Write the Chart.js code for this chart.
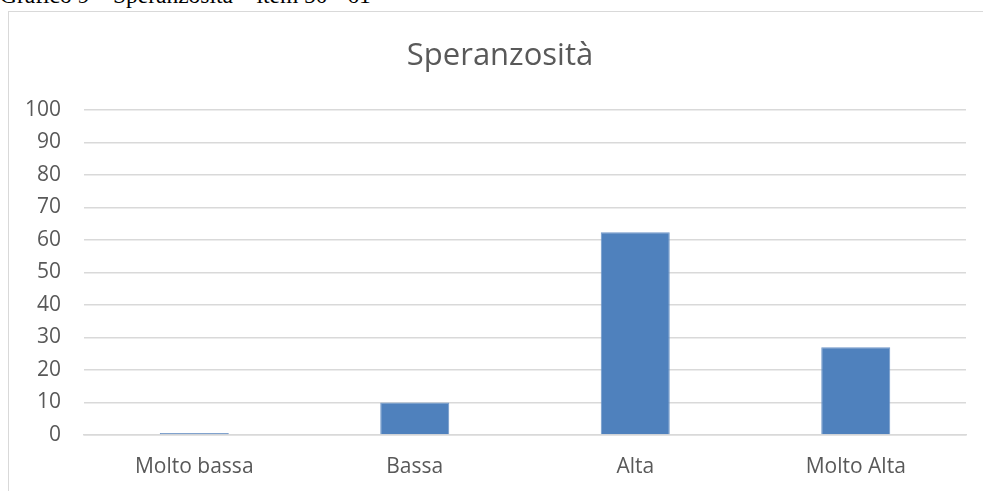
<!DOCTYPE html>
<html>
<head>
<meta charset="utf-8">
<script src="https://cdn.jsdelivr.net/npm/chart.js@4"></script>
<style>
  html, body { margin: 0; padding: 0; background: #fff; overflow: hidden; }
  body { width: 983px; height: 491px; position: relative; }
  #caption {
    position: absolute; left: 0; top: -18px;
    font-family: "Liberation Serif", "Times New Roman", serif;
    font-size: 23.5px; line-height: 27px; color: #000; white-space: nowrap;
  }
  #frame {
    position: absolute; left: 8px; top: 11px; width: 1000px; height: 500px;
    border: 1px solid #d9d9d9; box-sizing: border-box;
  }
  #wrap { position: absolute; left: 0; top: 0; width: 983px; height: 491px; }
</style>
</head>
<body>
<div id="caption">Grafico 9 – Speranzosità – item 50 - 61</div>
<div id="frame"></div>
<div id="wrap"><canvas id="chart"></canvas></div>
<script>
const chartTitle = 'Speranzosità';
const categories = ['Molto bassa', 'Bassa', 'Alta', 'Molto Alta'];
const values = [0.6, 10, 62.4, 27];
const yTicks = [0, 10, 20, 30, 40, 50, 60, 70, 80, 90, 100];

const FONT = '"Open Sans", Lato, sans-serif';
const TEXT = '#595959';

// title drawn centered over the frame, like the original
const titlePlugin = {
  id: 'frameTitle',
  afterDraw(chart) {
    const ctx = chart.ctx;
    ctx.save();
    ctx.font = '31px ' + FONT;
    ctx.fillStyle = TEXT;
    ctx.textAlign = 'center';
    ctx.textBaseline = 'middle';
    ctx.fillText(chartTitle, 500, 56);
    ctx.restore();
  }
};

new Chart(document.getElementById('chart'), {
  type: 'bar',
  data: {
    labels: categories,
    datasets: [{
      data: values,
      backgroundColor: '#4f81bd',
      borderColor: '#6f96c8',
      borderWidth: 1,
      categoryPercentage: 1,
      barPercentage: 0.313
    }]
  },
  options: {
    responsive: true,
    maintainAspectRatio: false,
    animation: false,
    layout: { padding: { top: 110, right: 17, bottom: 0, left: 0 } },
    plugins: {
      legend: { display: false },
      tooltip: { enabled: false },
      title: { display: false }
    },
    scales: {
      x: {
        grid: { display: false, drawTicks: false },
        border: { color: '#d9d9d9', width: 1.5 },
        ticks: { color: TEXT, font: { family: FONT, size: 21 }, padding: 19, maxRotation: 0 },
        afterFit(scale) { scale.height = 56; }
      },
      y: {
        min: 0,
        max: 100,
        afterBuildTicks(scale) { scale.ticks = yTicks.map(v => ({ value: v })); },
        grid: { color: '#d9d9d9', lineWidth: 1.5, drawTicks: false },
        border: { display: false },
        ticks: { color: TEXT, font: { family: FONT, size: 21 }, padding: 23 },
        afterFit(scale) { scale.width = 84; }
      }
    }
  },
  plugins: [titlePlugin]
});
</script>
</body>
</html>
